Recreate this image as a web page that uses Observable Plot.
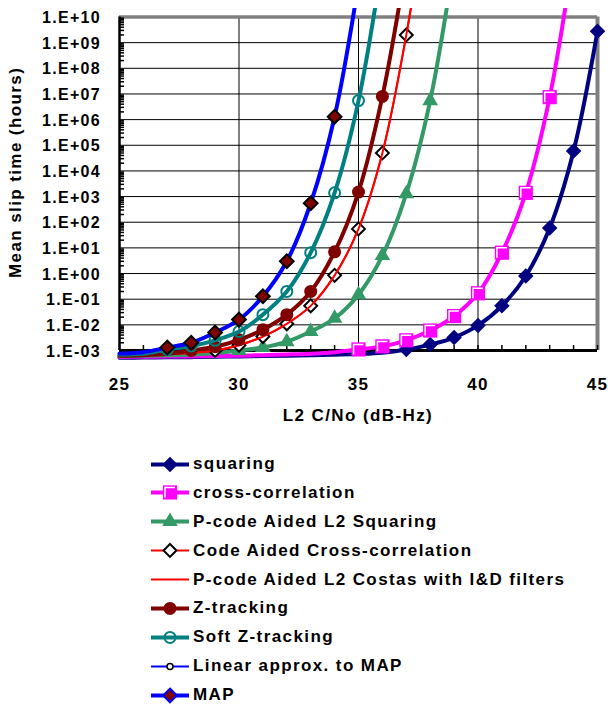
<!DOCTYPE html>
<html><head><meta charset="utf-8">
<script src="https://cdn.jsdelivr.net/npm/d3@7"></script>
<script src="https://cdn.jsdelivr.net/npm/@observablehq/plot@0.6"></script>
<style>
html,body{margin:0;padding:0;background:#fff;}
#wrap{position:relative;width:608px;height:705px;overflow:hidden;font-family:"Liberation Sans",Arial,sans-serif;font-weight:bold;color:#000;}
#chart{position:absolute;left:0;top:8px;}
#chart svg{overflow:hidden;}
#chart svg text{letter-spacing:1.3px;}
#ytitle{position:absolute;left:4.5px;top:278px;height:22px;line-height:22px;font-size:17px;letter-spacing:1.4px;white-space:nowrap;transform-origin:0 0;transform:rotate(-90deg);}
#xtitle{position:absolute;left:119px;width:478px;top:406px;line-height:20px;font-size:17px;letter-spacing:1.4px;text-align:center;white-space:nowrap;}
#legend{position:absolute;left:150px;top:449.5px;}
.row{height:28.9px;display:flex;align-items:center;font-size:17px;letter-spacing:1.4px;white-space:nowrap;}
.row svg{margin-right:3px;flex:none;}
</style></head><body>
<div id="wrap"><div id="chart"></div><div id="ytitle">Mean slip time (hours)</div><div id="xtitle">L2 C/No (dB-Hz)</div><div id="legend"></div></div>
<script>
// ---- data ----
const cn0 = [25,26,27,28,29,30,31,32,33,34,35,36,37,38,39,40,41,42,43,44,45];
const squaring = [5.2e-4,5.3e-4,5.4e-4,5.5e-4,5.7e-4,5.9e-4,6.1e-4,6.3e-4,6.6e-4,6.9e-4,7.3e-4,8.2e-4,1.1e-3,1.7e-3,3.2e-3,9.5e-3,5.5e-2,0.8,60,6e4,2.8e9];
const crossCorrelation = [5.6e-4,5.7e-4,5.8e-4,5.9e-4,6.1e-4,6.3e-4,6.6e-4,7e-4,7.5e-4,8.6e-4,1.1e-3,1.45e-3,2.5e-3,6e-3,2.2e-2,0.17,6.5,1.4e3,7.5e6,3e12,null];
const pcodeSquaring = [6e-4,6.2e-4,6.5e-4,7e-4,8e-4,1.0e-3,1.3e-3,2.2e-3,5.5e-3,1.8e-2,0.15,5,1.3e3,5.5e6,1.5e12,null,null,null,null,null,null];
const codeAidedCross = [6.5e-4,6.8e-4,7.2e-4,8e-4,1.0e-3,1.6e-3,3.5e-3,1.1e-2,5.5e-2,0.85,55,5e4,2e9,2e15,null,null,null,null,null,null,null];
const pcodeCostas = [6.5e-4,6.8e-4,7.2e-4,8e-4,1.0e-3,1.6e-3,3.5e-3,1.1e-2,5.5e-2,0.85,55,5e4,2e9,2e15,null,null,null,null,null,null,null];
const zTracking = [6.3e-4,6.6e-4,7.5e-4,1.0e-3,1.4e-3,2.6e-3,6.5e-3,2.5e-2,0.2,7,1.5e3,8e6,1.3e12,null,null,null,null,null,null,null,null];
const softZTracking = [7e-4,7.5e-4,1.1e-3,1.5e-3,2.5e-3,5.5e-3,2.5e-2,0.2,6.5,1.4e3,5.5e6,1.5e12,null,null,null,null,null,null,null,null,null];
const linearMAP = [7.6e-4,8.6e-4,1.3e-3,2e-3,5e-3,1.6e-2,0.13,3,550,1.3e6,2e11,null,null,null,null,null,null,null,null,null,null];
const mapValues = [7.6e-4,8.6e-4,1.3e-3,2e-3,5e-3,1.6e-2,0.13,3,550,1.3e6,2e11,null,null,null,null,null,null,null,null,null,null];

const seriesNames = ["squaring","cross-correlation","P-code Aided L2 Squaring","Code Aided Cross-correlation","P-code Aided L2 Costas with I&D filters","Z-tracking","Soft Z-tracking","Linear approx. to MAP","MAP"];
const seriesValues = [squaring,crossCorrelation,pcodeSquaring,codeAidedCross,pcodeCostas,zTracking,softZTracking,linearMAP,mapValues];
const xTicks = [25,30,35,40,45];
const yTicks = [1e-3,1e-2,1e-1,1e0,1e1,1e2,1e3,1e4,1e5,1e6,1e7,1e8,1e9,1e10];

// ---- styles ----
const whiteL = {draw(ctx, size){const s = Math.sqrt(size)/2; ctx.moveTo(-s, s); ctx.lineTo(-s, -s); ctx.lineTo(s, -s);}};
const styles = [
  {color:"#000080", width:4, markers:[{symbol:"diamond2", r:7, fill:"#000080", stroke:"none"}]},
  {color:"#ff00ff", width:4, markers:[{symbol:"square", r:8, fill:"#ff00ff", stroke:"none"},{symbol:whiteL, r:5.6, fill:"none", stroke:"#fff", sw:1.5}]},
  {color:"#339966", width:4, markers:[{symbol:"triangle", r:5.8, fill:"#339966", stroke:"none"}]},
  {color:"#ff0000", width:2, markers:[{symbol:"diamond2", r:5.8, fill:"#fff", stroke:"#000", sw:2}]},
  {color:"#ff0000", width:2, markers:[]},
  {color:"#800000", width:4, markers:[{symbol:"circle", r:6.5, fill:"#800000", stroke:"none"}]},
  {color:"#008080", width:4, markers:[{symbol:"circle", r:5.5, fill:"none", stroke:"#008080", sw:2}]},
  {color:"#0000ff", width:2, markers:[{symbol:"circle", r:3, fill:"#fff", stroke:"#000", sw:1.5}]},
  {color:"#0000ff", width:4, markers:[{symbol:"diamond2", r:6.2, fill:"#800000", stroke:"#000", sw:2}], legendStroke:"#0000ff"}
];

const yFormat = d => {const e = Math.round(Math.log10(d)); return "1.E" + (e < 0 ? "-" : "+") + String(Math.abs(e)).padStart(2, "0");};
const noLabel = () => "";
const minorY = [];
for (let e = -3; e < 10; e++) for (let m = 2; m <= 9; m++) minorY.push(m * Math.pow(10, e));

const seriesMarks = [];
seriesValues.forEach((vals, i) => {
  const pts = cn0.map((x, j) => ({x, y: vals[j]})).filter(d => d.y != null);
  const st = styles[i];
  seriesMarks.push(Plot.line(pts, {x: "x", y: "y", stroke: st.color, strokeWidth: st.width, curve: "catmull-rom"}));
  const mpts = pts.filter(d => d.y >= 1e-3 && d.y <= 1e10);
  st.markers.forEach(m => {
    seriesMarks.push(Plot.dot(mpts, {x: "x", y: "y", symbol: m.symbol, r: m.r, fill: m.fill, stroke: m.stroke, strokeWidth: m.sw || 1}));
  });
});

const chart = Plot.plot({
  width: 608, height: 422,
  marginLeft: 119, marginRight: 11, marginTop: 8.5, marginBottom: 80,
  style: {fontFamily: "'Liberation Sans', Arial, sans-serif", fontWeight: "bold", background: "white", overflow: "hidden", color: "#000"},
  x: {domain: [25, 45], label: null},
  y: {type: "log", domain: [1e-3, 1e10], label: null},
  marks: [
    Plot.gridY(yTicks.slice(1, -1), {stroke: "#000", strokeOpacity: 1, strokeWidth: 1}),
    Plot.gridX([30, 35, 40], {stroke: "#000", strokeOpacity: 1, strokeWidth: 1}),
    Plot.ruleY([1e10], {stroke: "#808080", strokeWidth: 3.5}),
    Plot.ruleX([45], {stroke: "#808080", strokeWidth: 4}),
    Plot.ruleX([25], {stroke: "#000", strokeWidth: 2.5}),
    Plot.ruleY([1e-3], {stroke: "#000", strokeWidth: 3}),
    Plot.axisY(minorY, {tickSize: -5, tickFormat: noLabel, stroke: "#000", strokeWidth: 1.5}),
    Plot.axisY(yTicks, {tickSize: 0, tickPadding: 18.5, tickFormat: yFormat, fontSize: 16, fontWeight: "bold", dy: 1}),
    Plot.axisX(cn0, {tickSize: -5, tickFormat: noLabel, stroke: "#000", strokeWidth: 1.5}),
    Plot.axisX(xTicks, {tickSize: 0, tickPadding: 27, fontSize: 17, fontWeight: "bold"}),
    ...seriesMarks
  ]
});
document.getElementById("chart").appendChild(chart);

// ---- legend ----
const legend = document.getElementById("legend");
const symMap = {diamond2: d3.symbolDiamond2, square: d3.symbolSquare, triangle: d3.symbolTriangle, circle: d3.symbolCircle};
seriesNames.forEach((name, i) => {
  const st = styles[i];
  const row = document.createElement("div");
  row.className = "row";
  const svg = d3.create("svg").attr("width", 40).attr("height", 28.9);
  svg.append("line").attr("x1", 1).attr("x2", 39).attr("y1", 14.45).attr("y2", 14.45)
    .attr("stroke", st.color).attr("stroke-width", st.width);
  st.markers.forEach(m => {
    const type = typeof m.symbol === "string" ? symMap[m.symbol] : m.symbol;
    svg.append("path").attr("transform", "translate(20,14.45)")
      .attr("d", d3.symbol(type, Math.PI * m.r * m.r)())
      .attr("fill", m.fill).attr("stroke", (st.legendStroke && m.stroke !== "none") ? st.legendStroke : m.stroke)
      .attr("stroke-width", m.sw || 1);
  });
  row.appendChild(svg.node());
  const span = document.createElement("span");
  span.textContent = name;
  row.appendChild(span);
  legend.appendChild(row);
});
</script>
</body></html>
